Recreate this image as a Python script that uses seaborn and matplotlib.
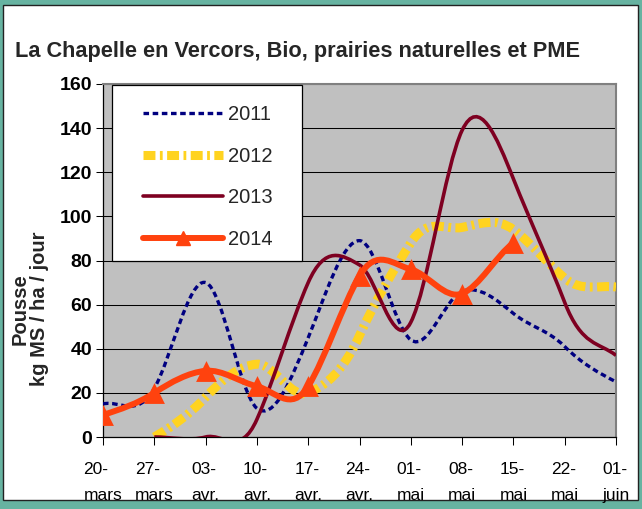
import numpy as np
import pandas as pd
import matplotlib
matplotlib.use("Agg")
import matplotlib.pyplot as plt
import seaborn as sns
from matplotlib.path import Path
from matplotlib.patches import PathPatch, Rectangle
from matplotlib.lines import Line2D

# weekly values (kg MS / ha / jour)
categories = ["20-\nmars", "27-\nmars", "03-\navr.", "10-\navr.", "17-\navr.", "24-\navr.",
              "01-\nmai", "08-\nmai", "15-\nmai", "22-\nmai", "01-\njuin"]
nan = np.nan
pousse_2011 = [15, 22, 70, 13, 45, 89, 44, 66, 56, 41, 25]
pousse_2012 = [nan, 0, 18, 33, 20, 46, 88, 95, 94, 72, 68]
pousse_2013 = [nan, 0, 0, 8, 70, 78, 52, 139, 117, 61, 37]
pousse_2014 = [10, 20, 30, 23, 23, 73, 76, 65, 88, nan, nan]
years = ["2011", "2012", "2013", "2014"]
yticks = [0, 20, 40, 60, 80, 100, 120, 140, 160]

title = "La Chapelle en Vercors, Bio, prairies naturelles et PME"
ylabel = "Pousse\nkg MS / ha / jour"

sns.set_style("white")
plt.rcParams["font.family"] = ["Liberation Sans", "DejaVu Sans"]
plt.rcParams["lines.scale_dashes"] = False

W, H = 642, 509
fig = plt.figure(figsize=(W / 100, H / 100), dpi=100)
fig.patch.set_facecolor("#67b3a1")
# white slide panel
fig.patches.append(Rectangle((3 / W, 1 - 500 / H), 635 / W, 495 / H, transform=fig.transFigure,
                             facecolor="white", edgecolor="#222222", lw=1, zorder=-1))

ax = fig.add_axes([103 / W, 1 - 437 / H, 513 / W, 353 / H])
ax.set_facecolor("#c0c0c0")


def smooth_path(xs, ys, c=1.5):
    # excel-like smoothed line: cubic bezier through the points
    xs = np.asarray(xs, float)
    ys = np.asarray(ys, float)
    m = np.empty(len(ys))
    m[1:-1] = c * (ys[2:] - ys[:-2]) / 2
    m[0] = c * (ys[1] - ys[0]) / 2
    m[-1] = c * (ys[-1] - ys[-2]) / 2
    verts = [(xs[0], ys[0])]
    codes = [Path.MOVETO]
    for i in range(len(xs) - 1):
        verts += [(xs[i] + 1 / 3, ys[i] + m[i] / 3),
                  (xs[i + 1] - 1 / 3, ys[i + 1] - m[i + 1] / 3),
                  (xs[i + 1], ys[i + 1])]
        codes += [Path.CURVE4] * 3
    return Path(verts, codes)


styles = {
    "2011": dict(color="#000080", lw=2.4, ls=(0, (4.0, 2.6))),
    "2012": dict(color="#FFD320", lw=6.5, ls=(0, (8.6, 3.2, 2.0, 3.2))),
    "2013": dict(color="#7E0021", lw=2.6, ls="-"),
    "2014": dict(color="#FF420E", lw=4.3, ls="-"),
}

df = pd.DataFrame({"x": range(len(categories)), "2011": pousse_2011, "2012": pousse_2012,
                   "2013": pousse_2013, "2014": pousse_2014})

for z, yr in enumerate(years):
    d = df[["x", yr]].dropna()
    st = styles[yr]
    patch = PathPatch(smooth_path(d["x"], d[yr]), fill=False, edgecolor=st["color"],
                      lw=st["lw"], linestyle=st["ls"], capstyle="butt", zorder=3 + z)
    ax.add_patch(patch)

d14 = df[["x", "2014"]].dropna()
sns.scatterplot(data=d14, x="x", y="2014", marker="^", s=15 ** 2, color=styles["2014"]["color"],
                linewidth=0, ax=ax, zorder=8, legend=False)

ax.set_xlim(0, 10)
ax.set_ylim(0, 160)
ax.set_xticks(range(len(categories)))
ax.set_xticklabels(categories, fontsize=12.5, linespacing=1.85, multialignment="left")
ax.set_yticks(yticks)
ax.set_yticklabels([str(v) for v in yticks], fontsize=14, fontweight="bold")
ax.set_xlabel("")
ax.set_ylabel("")
ax.yaxis.grid(True, color="black", lw=0.75)
ax.xaxis.grid(False)
ax.set_axisbelow(True)
ax.tick_params(axis="y", direction="out", length=5, width=0.75, pad=3, left=True, colors="black")
ax.tick_params(axis="x", direction="out", length=5.8, width=0.75, pad=12.5, bottom=True, colors="black")
for s in ["left", "bottom"]:
    ax.spines[s].set_color("black")
    ax.spines[s].set_linewidth(0.9)
for s in ["top", "right"]:
    ax.spines[s].set_color("#808080")
    ax.spines[s].set_linewidth(1.5)

fig.text(15 / W, 1 - 52 / H, title, ha="left", va="center", fontsize=15.7, fontweight="bold")
fig.text(30 / W, 1 - 309 / H, ylabel, rotation=90, ha="center", va="center",
         multialignment="center", fontsize=14.5, fontweight="bold", linespacing=1.0)

# legend box
fig.patches.append(Rectangle((112 / W, 1 - 261 / H), 190 / W, 176 / H, transform=fig.transFigure,
                             facecolor="white", edgecolor="black", lw=0.9, zorder=4))
handles = []
for yr in years:
    st = styles[yr]
    h = Line2D([], [], color=st["color"], lw=st["lw"], linestyle=st["ls"], dash_capstyle="butt")
    if yr == "2014":
        h.set_marker("^")
        h.set_markersize(10)
    handles.append(h)
fig.legend(handles, years, loc="upper left", bbox_to_anchor=(143 / W, 1 - 105 / H),
           frameon=False, borderpad=0, borderaxespad=0, handlelength=3.95, handletextpad=0.25,
           labelspacing=1.12, fontsize=14.5, numpoints=1)

fig.savefig("out.png", dpi=100, facecolor=fig.get_facecolor())
